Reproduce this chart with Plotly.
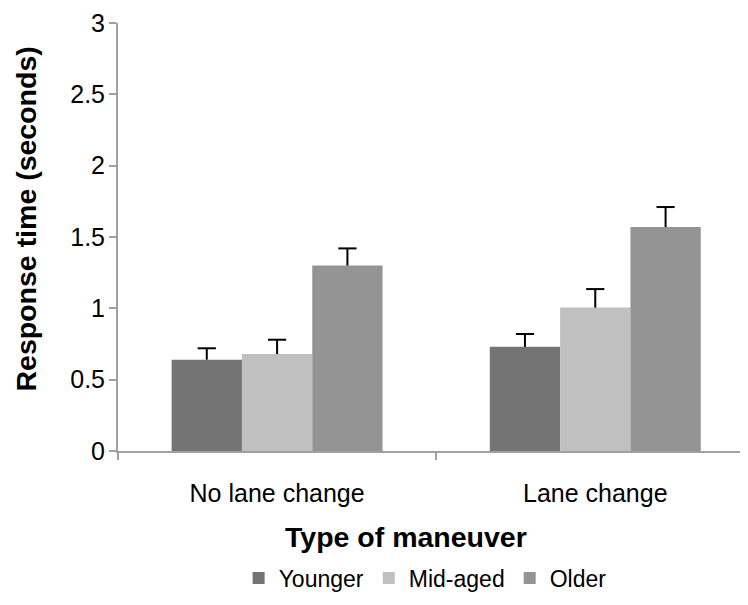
import plotly.graph_objects as go

categories = ["No lane change", "Lane change"]
series_names = ["Younger", "Mid-aged", "Older"]
younger = [0.64, 0.73]
mid_aged = [0.68, 1.005]
older = [1.30, 1.57]
younger_err = [0.08, 0.09]
mid_aged_err = [0.10, 0.13]
older_err = [0.12, 0.14]
y_ticks = [0, 0.5, 1, 1.5, 2, 2.5, 3]
y_tick_labels = ["0", "0.5", "1", "1.5", "2", "2.5", "3"]

colors = ["#747474", "#C0C0C0", "#949494"]
values = [younger, mid_aged, older]
errors = [younger_err, mid_aged_err, older_err]

FONT = "Liberation Sans, Arial, sans-serif"
GAP = 0.337
TOP = 15
PLOT_H = 443 - TOP

fig = go.Figure()
for name, vals, col in zip(series_names, values, colors):
    fig.add_trace(go.Bar(
        x=categories, y=vals, name=name, offsetgroup=name,
        marker=dict(color=col, line=dict(color=col, width=0)),
    ))

# plus-only error bars: a stem from the bar top and a cap at the end
for name, vals, errs in zip(series_names, values, errors):
    tops = [v + e for v, e in zip(vals, errs)]
    fig.add_trace(go.Scatter(
        x=categories, y=tops, mode="markers", offsetgroup=name,
        showlegend=False, hoverinfo="skip",
        marker=dict(symbol="line-ew", size=13, color="black",
                    line=dict(color="black", width=2)),
        error_y=dict(type="data", symmetric=False, array=[0] * len(errs),
                     arrayminus=errs, color="black", thickness=2, width=0),
    ))

# page body has an 8px margin, so the figure is 8px smaller than the window
fig.update_layout(
    width=740, height=597,
    margin=dict(l=110, r=0, t=TOP, b=154),
    paper_bgcolor="white", plot_bgcolor="white",
    barmode="group", bargap=GAP, bargroupgap=0,
    scattermode="group", scattergap=GAP,
    font=dict(family=FONT, size=25, color="black"),
    showlegend=True,
    legend=dict(orientation="h", x=0.4875, xanchor="center",
                y=(451 - 578) / PLOT_H,
                yanchor="middle", font=dict(size=23), itemwidth=30,
                traceorder="normal"),
    xaxis=dict(
        type="category", range=[-0.5, 1.48], tickson="boundaries",
        ticks="outside", ticklen=7, tickcolor="#A0A0A0", tickwidth=1.5,
        showline=True, linecolor="#A0A0A0", linewidth=2,
        showgrid=False, tickfont=dict(size=25), automargin=False,
        ticklabelstandoff=19,
    ),
    yaxis=dict(
        range=[0, 3], tickvals=y_ticks, ticktext=y_tick_labels,
        ticks="outside", ticklen=7, tickcolor="#A0A0A0", tickwidth=1.5,
        showline=True, linecolor="#A0A0A0", linewidth=2,
        showgrid=False, zeroline=False, tickfont=dict(size=25),
        automargin=False, ticklabelstandoff=-1, ticklabeloverflow="allow",
    ),
    annotations=[
        dict(text="<b>Response time (seconds)</b>", xref="paper", yref="paper",
             x=(25 - 118) / 630, y=(451 - 219.5) / PLOT_H, textangle=-90,
             showarrow=False, xanchor="center", yanchor="middle",
             font=dict(size=28.5)),
        dict(text="<b>Type of maneuver</b>", xref="paper", yref="paper",
             x=(406 - 118) / 630, y=(451 - 537) / PLOT_H,
             showarrow=False, xanchor="center", yanchor="middle",
             font=dict(size=28.5)),
    ],
)

fig.write_html("out.html")
